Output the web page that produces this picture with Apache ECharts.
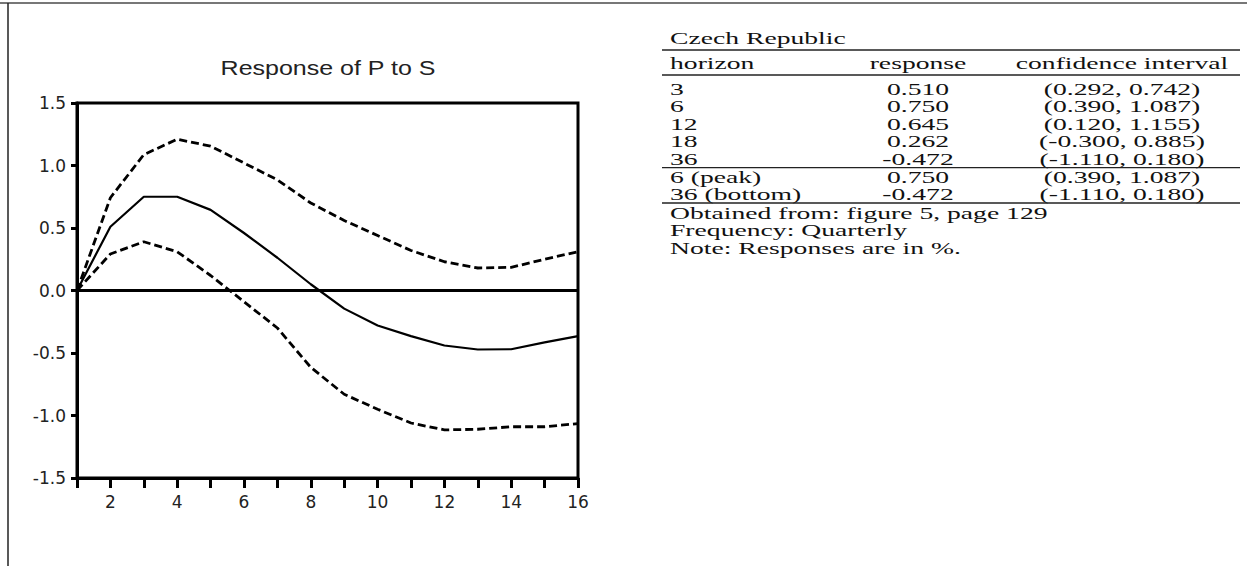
<!DOCTYPE html>
<html>
<head>
<meta charset="utf-8">
<script src="https://cdn.jsdelivr.net/npm/echarts@6/dist/echarts.min.js"></script>
<style>
html,body{margin:0;padding:0;background:#fff;}
#chart{width:1247px;height:566px;}
</style>
</head>
<body>
<div id="chart"></div>
<script>
// ---- data ----
const chartTitle = 'Response of P to S';
const periods = [1,2,3,4,5,6,7,8,9,10,11,12,13,14,15,16];
const response = [0, 0.510, 0.750, 0.750, 0.645, 0.46, 0.262, 0.05, -0.145, -0.28, -0.365, -0.44, -0.472, -0.47, -0.415, -0.365];
const upperBand = [0, 0.742, 1.087, 1.21, 1.155, 1.02, 0.885, 0.70, 0.56, 0.44, 0.32, 0.23, 0.180, 0.185, 0.25, 0.31];
const lowerBand = [0, 0.292, 0.390, 0.31, 0.120, -0.09, -0.300, -0.615, -0.83, -0.95, -1.06, -1.115, -1.110, -1.09, -1.09, -1.065];
const xTickLabels = [2,4,6,8,10,12,14,16];

const tableCaption = 'Czech Republic';
const tableHeader = ['horizon', 'response', 'confidence interval'];
const horizons = ['3', '6', '12', '18', '36'];
const horizonResponses = ['0.510', '0.750', '0.645', '0.262', '-0.472'];
const horizonIntervals = ['(0.292, 0.742)', '(0.390, 1.087)', '(0.120, 1.155)', '(-0.300, 0.885)', '(-1.110, 0.180)'];
const extremeLabels = ['6 (peak)', '36 (bottom)'];
const extremeResponses = ['0.750', '-0.472'];
const extremeIntervals = ['(0.390, 1.087)', '(-1.110, 0.180)'];
const notes = ['Obtained from: figure 5, page 129', 'Frequency: Quarterly', 'Note: Responses are in %.'];

// ---- build ----
const pair = arr => periods.map((p, i) => [p, arr[i]]);
const chart = echarts.init(document.getElementById('chart'), null, {renderer: 'svg'});

const serifFont = '17.5px "Liberation Serif", serif';
const SX = 1.58;
const colL = 670, colM = 918, colR = 1122;
function txt(s, x, y, align) {
  return {type: 'text', x: x, y: y, scaleX: SX, silent: true,
    style: {text: s, x: 0, y: 0, textAlign: align, textVerticalAlign: 'middle', font: serifFont, fill: '#111'}};
}
function rule(y, w) {
  return {type: 'line', silent: true, shape: {x1: 662, y1: y, x2: 1240, y2: y}, style: {stroke: '#222', lineWidth: w}};
}
const g = [];
// page border lines
g.push({type: 'line', silent: true, shape: {x1: 0, y1: 3, x2: 1247, y2: 3}, style: {stroke: '#777', lineWidth: 2}});
g.push({type: 'line', silent: true, shape: {x1: 8, y1: 3, x2: 8, y2: 566}, style: {stroke: '#222', lineWidth: 1.5}});
// chart title
g.push({type: 'text', x: 328, y: 68, scaleX: 1.25, silent: true,
  style: {text: chartTitle, x: 0, y: 0, textAlign: 'center', textVerticalAlign: 'middle',
    font: '20px "Liberation Sans", Arial, sans-serif', fill: '#222'}});
// table
const rowH = 17.4;
g.push(txt(tableCaption, colL, 38, 'left'));
g.push(rule(50, 1.5));
g.push(txt(tableHeader[0], colL, 63, 'left'));
g.push(txt(tableHeader[1], colM, 63, 'center'));
g.push(txt(tableHeader[2], colR, 63, 'center'));
g.push(rule(75, 1.5));
horizons.forEach((h, i) => {
  const y = 89 + i * rowH;
  g.push(txt(h, colL, y, 'left'));
  g.push(txt(horizonResponses[i], colM, y, 'center'));
  g.push(txt(horizonIntervals[i], colR, y, 'center'));
});
const ySep = 89 + 4 * rowH + 9;
g.push(rule(ySep, 1.2));
extremeLabels.forEach((h, i) => {
  const y = ySep + 9 + i * rowH;
  g.push(txt(h, colL, y, 'left'));
  g.push(txt(extremeResponses[i], colM, y, 'center'));
  g.push(txt(extremeIntervals[i], colR, y, 'center'));
});
const yEnd = ySep + 9 + rowH + 9;
g.push(rule(yEnd, 1.5));
notes.forEach((n, i) => g.push(txt(n, colL, yEnd + 10 + i * rowH, 'left')));

const axisFont = {fontFamily: '"DejaVu Sans", sans-serif', fontSize: 17, color: '#222'};

chart.setOption({
  animation: false,
  backgroundColor: '#fff',
  grid: {left: 77, top: 103, width: 501, height: 375, show: true, borderColor: '#000', borderWidth: 3, backgroundColor: 'transparent'},
  xAxis: {
    type: 'value', min: 1, max: 16, interval: 1,
    axisLine: {onZero: false, lineStyle: {color: '#000', width: 3}},
    axisTick: {show: true, inside: false, length: 10, lineStyle: {color: '#000', width: 3}},
    axisLabel: Object.assign({margin: 15, showMinLabel: true, showMaxLabel: true,
      formatter: v => xTickLabels.indexOf(v) >= 0 ? String(v) : ''}, axisFont),
    splitLine: {show: false}
  },
  yAxis: {
    type: 'value', min: -1.5, max: 1.5, interval: 0.5,
    axisLine: {show: true, onZero: false, lineStyle: {color: '#000', width: 3}},
    axisTick: {show: true, inside: false, length: 6, lineStyle: {color: '#000', width: 3}},
    axisLabel: Object.assign({margin: 11, formatter: v => v.toFixed(1)}, axisFont),
    splitLine: {show: false}
  },
  series: [
    {type: 'line', name: 'response', data: pair(response), symbol: 'none', smooth: false,
      lineStyle: {color: '#000', width: 2.2},
      markLine: {silent: true, symbol: 'none', label: {show: false},
        lineStyle: {color: '#000', width: 3, type: 'solid'}, data: [{yAxis: 0}]}},
    {type: 'line', name: 'upper', data: pair(upperBand), symbol: 'none',
      lineStyle: {color: '#000', width: 2.8, type: [8, 4]}},
    {type: 'line', name: 'lower', data: pair(lowerBand), symbol: 'none',
      lineStyle: {color: '#000', width: 2.8, type: [8, 4]}}
  ],
  graphic: g
});
</script>
</body>
</html>
